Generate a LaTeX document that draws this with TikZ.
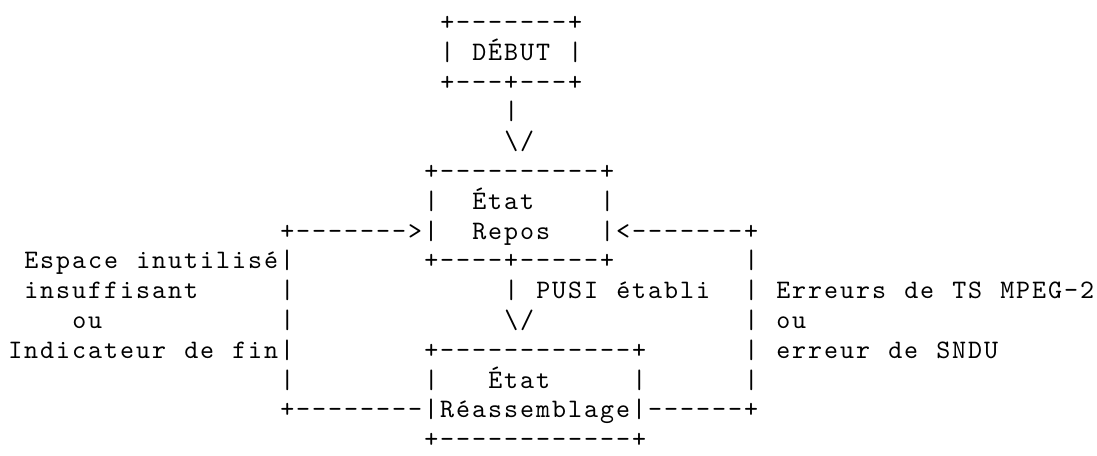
\documentclass[tikz,border=0pt]{standalone}
\usepackage{fontspec}
\newfontfamily\asciifont{lmmono10-regular}[Extension=.otf, LetterSpace=7.5, Ligatures=TeXOff]

\begin{document}
\begin{tikzpicture}[
    x=12pt, y=-22.35pt,
    asc/.style={font=\asciifont\fontsize{20pt}{22pt}\selectfont, anchor=base west, inner sep=0pt},
]
\useasboundingbox (-6pt,0.525pt) rectangle (816.75pt,-340.725pt);

% === DEBUT box ===
\node[asc] (debutT) at (27,1) {+-------+};
\node[asc] (debutL) at (27,2) {|};
\node[asc] (debut)  at (29,2) {DÉBUT};
\node[asc] (debutR) at (35,2) {|};
\node[asc] (debutB) at (27,3) {+---+---+};
\node[asc] (startline)  at (31,4) {|};
\node[asc] (startarrow) at (31,5) {\textbackslash/};

% === Etat Repos box ===
\node[asc] (reposT) at (26,6) {+----------+};
\node[asc] (reposL) at (26,7) {|};
\node[asc] (repos1) at (29,7) {État};
\node[asc] (reposR) at (37,7) {|};
\node[asc] (leftarrow)  at (17,8) {+------->|};
\node[asc] (repos2)     at (29,8) {Repos};
\node[asc] (rightarrow) at (37,8) {|<-------+};
\node[asc] (reposB) at (26,9) {+----+-----+};

% === PUSI transition ===
\node[asc] (pusiline)  at (31,10) {|};
\node[asc] (pusi1)     at (33,10) {PUSI};
\node[asc] (pusi2)     at (38,10) {établi};
\node[asc] (pusiarrow) at (31,11) {\textbackslash/};

% === Etat Reassemblage box ===
\node[asc] (reasmT)  at (26,12) {+------------+};
\node[asc] (reasmL)  at (26,13) {|};
\node[asc] (reasm1)  at (30,13) {État};
\node[asc] (reasmR)  at (39,13) {|};
\node[asc] (bottomloop) at (17,14) {+--------|Réassemblage|------+};
\node[asc] (reasmB)  at (26,15) {+------------+};

% === left loop: end of SNDU ===
\node[asc] (endlbl1a) at (1,9)  {Espace};
\node[asc] (endlbl1b) at (8,9)  {inutilisé|};
\node[asc] (endlbl2)  at (1,10) {insuffisant};
\node[asc] (endline2) at (17,10) {|};
\node[asc] (endlbl3)  at (4,11) {ou};
\node[asc] (endline3) at (17,11) {|};
\node[asc] (endlbl4a) at (0,12)  {Indicateur};
\node[asc] (endlbl4b) at (11,12) {de};
\node[asc] (endlbl4c) at (14,12) {fin|};
\node[asc] (endline5) at (17,13) {|};

% === right loop: errors ===
\node[asc] (errline1) at (46,9)  {|};
\node[asc] (errline2) at (46,10) {|};
\node[asc] (errlbl1a) at (48,10) {Erreurs};
\node[asc] (errlbl1b) at (56,10) {de};
\node[asc] (errlbl1c) at (59,10) {TS};
\node[asc] (errlbl1d) at (62,10) {MPEG-2};
\node[asc] (errline3) at (46,11) {|};
\node[asc] (errlbl2)  at (48,11) {ou};
\node[asc] (errline4) at (46,12) {|};
\node[asc] (errlbl3a) at (48,12) {erreur};
\node[asc] (errlbl3b) at (55,12) {de};
\node[asc] (errlbl3c) at (58,12) {SNDU};
\node[asc] (errline5) at (46,13) {|};

\end{tikzpicture}
\end{document}
